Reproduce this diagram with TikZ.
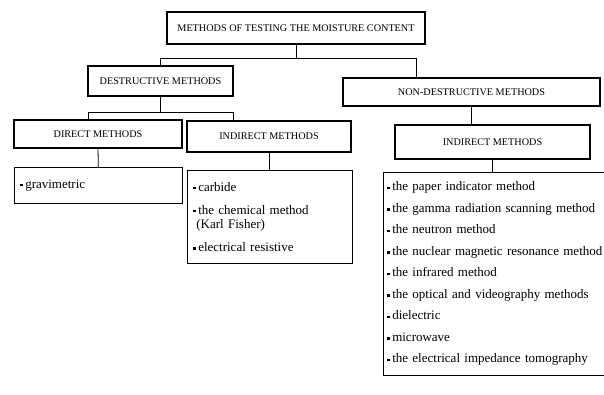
\documentclass[tikz,border=0pt]{standalone}
\usepackage{fontspec}
\setmainfont{Liberation Serif}
\usetikzlibrary{positioning, calc}

\newcommand{\itm}{\raisebox{0.3ex}{\rule{2.4pt}{2.4pt}}\hspace{2.5pt}}

\begin{document}
\begin{tikzpicture}[x=1pt, y=1pt]
    \tikzstyle{head}=[draw, line width=1.2pt, rectangle, font=\fontsize{10.2}{11}\selectfont, minimum height=30pt, inner sep=2pt];
    \tikzstyle{list}=[draw, line width=0.7pt, rectangle, anchor=north west, align=left, font=\fontsize{13}{14.5}\selectfont, inner xsep=6pt, inner ysep=2pt];
    \tikzstyle{link}=[line width=0.8pt];
    \useasboundingbox (0,0) rectangle (604,-394);

    \node[head, minimum width=258pt, minimum height=32pt] (moisture) at (296,-28) {METHODS OF TESTING THE MOISTURE CONTENT};
    \node[head, minimum width=145pt] (destr) at (160.5,-81) {DESTRUCTIVE METHODS};
    \node[head, minimum width=257pt, minimum height=28pt] (nondestr) at (471.5,-92) {NON-DESTRUCTIVE METHODS};
    \node[head, minimum width=168pt, minimum height=28pt] (direct) at (98,-134) {DIRECT METHODS};
    \node[head, minimum width=164pt, minimum height=31pt] (indirect) at (269,-136.5) {INDIRECT METHODS};
    \node[head, minimum width=195pt, minimum height=34pt] (indirectnd) at (492.5,-142) {INDIRECT METHODS};

    \node[list, text width=156pt, minimum height=36pt] (gravim) at (14,-167) {\itm gravimetric};
    \node[list, text width=153pt, minimum height=93pt] (indlist) at (187,-170)
        {\itm carbide\\[8.5pt]
         \itm the chemical method\\
         \hspace{3pt}(Karl Fisher)\\[8.5pt]
         \itm electrical resistive};
    \node[list, text width=260pt, minimum height=203pt, inner xsep=4pt] (ndlist) at (383,-172)
        {\itm the paper indicator method\\[7pt]
         \itm the gamma radiation scanning method\\[7pt]
         \itm the neutron method\\[7pt]
         \itm the nuclear magnetic resonance method\\[7pt]
         \itm the infrared method\\[7pt]
         \itm the optical and videography methods\\[7pt]
         \itm dielectric\\[7pt]
         \itm microwave\\[7pt]
         \itm the electrical impedance tomography};

    \draw[link] (moisture.south) -- ++(0,-14) coordinate (mj);
    \draw[link] (mj) -| (destr.north);
    \draw[link] (mj) -| ([xshift=-55.5pt]nondestr.north);
    \draw[link] (destr.south) -- ++(0,-16) coordinate (dj);
    \draw[link] (dj) -| ([xshift=-10pt]direct.north);
    \draw[link] (dj) -| ([xshift=-36pt]indirect.north);
    \draw[link] (direct.south) -- (gravim.north);
    \draw[link] (indirect.south) -- (indirect.south |- indlist.north);
    \draw[link] (nondestr.south) -- (nondestr.south |- indirectnd.north);
    \draw[link] (indirectnd.south) -- (indirectnd.south |- ndlist.north);
\end{tikzpicture}
\end{document}
